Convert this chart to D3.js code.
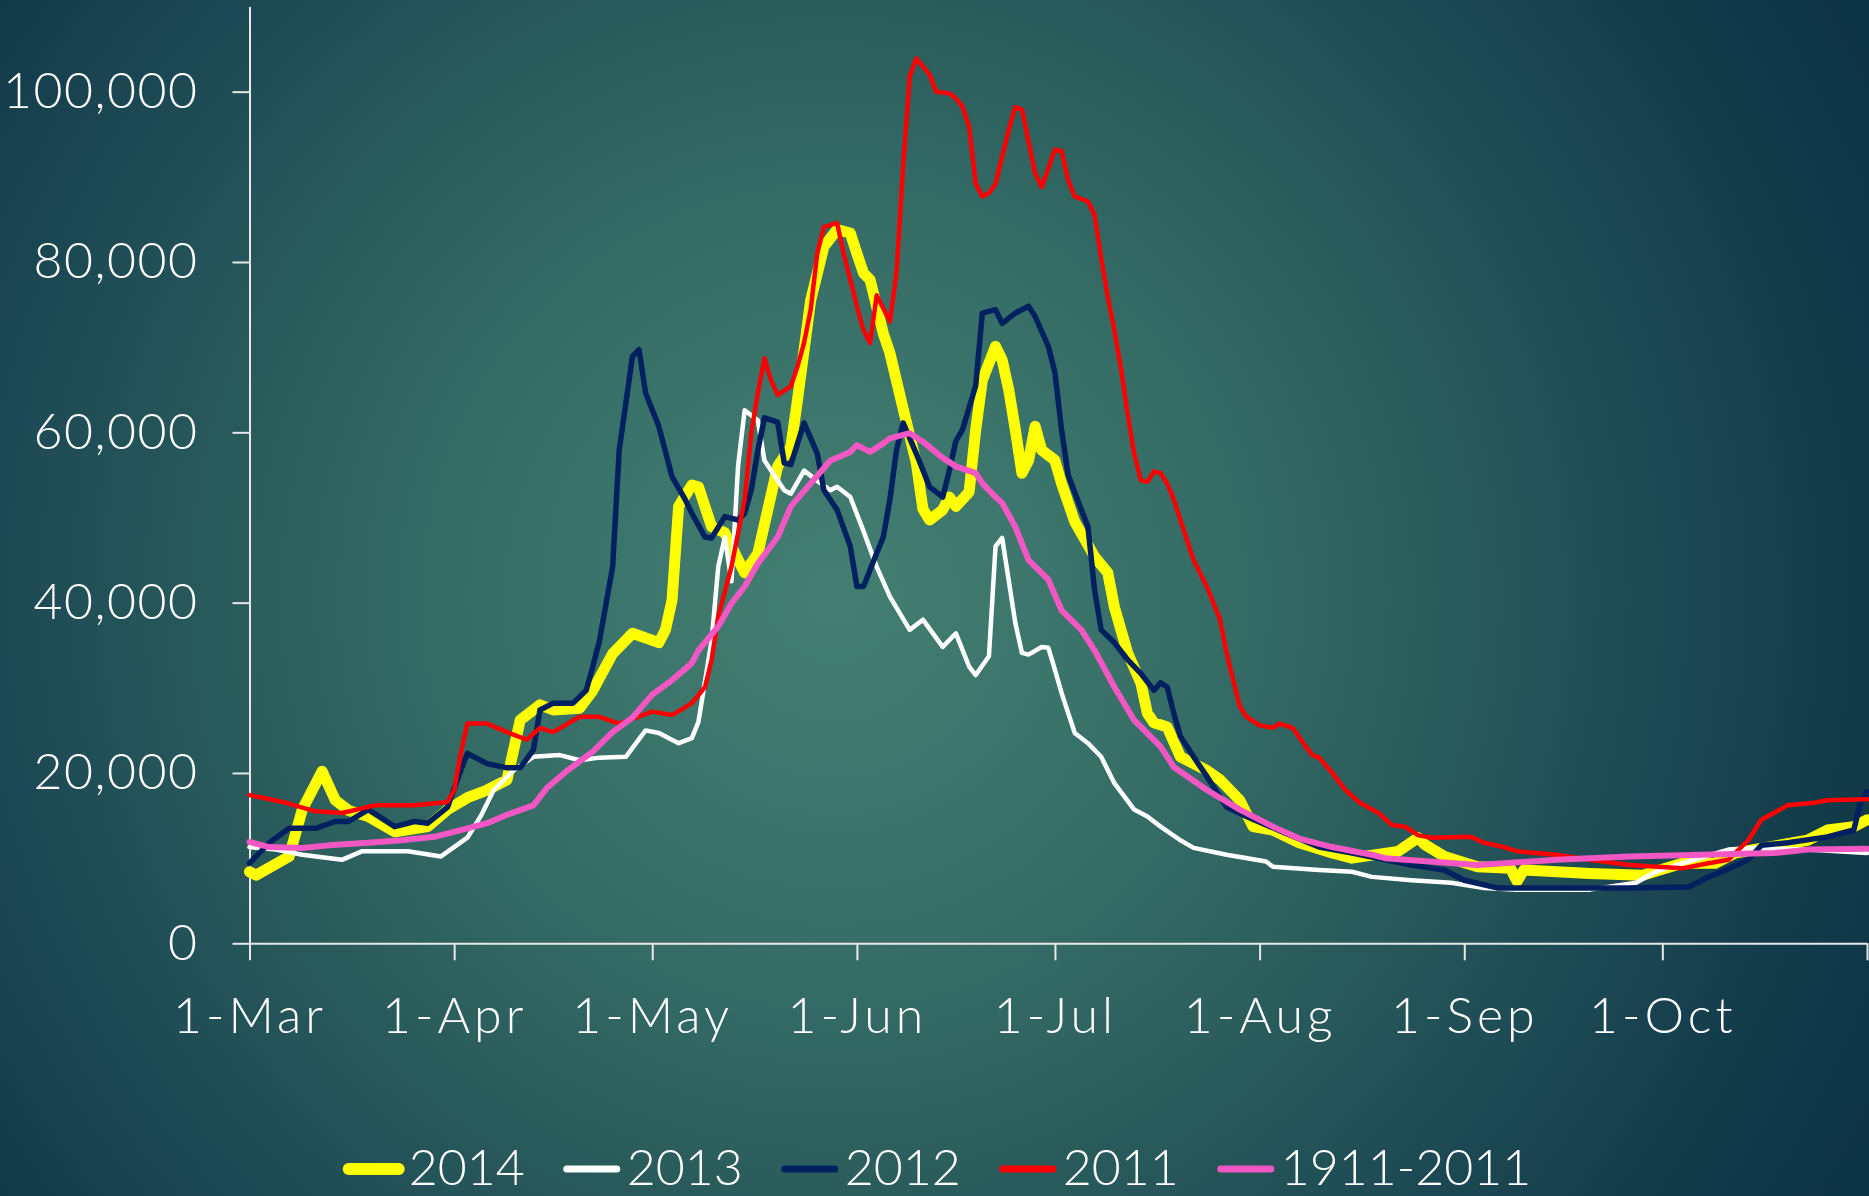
<!DOCTYPE html>
<html>
<head>
<meta charset="utf-8">
<script src="https://cdnjs.cloudflare.com/ajax/libs/d3/7.8.5/d3.min.js"></script>
<style>
	html, body { margin: 0; padding: 0; background: #123c4a; overflow: hidden; }
	svg { display: block; }
</style>
</head>
<body>
<div id="chart"></div>
<script>
// x = days after 1 March, y = daily count
var monthDays = [0, 31, 61, 92, 122, 153, 184, 214, 245];
var monthLabels = ["1-Mar", "1-Apr", "1-May", "1-Jun", "1-Jul", "1-Aug", "1-Sep", "1-Oct", ""];
var yTicks = [0, 20000, 40000, 60000, 80000, 100000];

var seriesNames = ["2014", "2013", "2012", "2011", "1911-2011"];
var seriesColors = ["#ffff00", "#ffffff", "#002060", "#ff0000", "#f257c3"];
var seriesWidths = [11, 4.5, 5.5, 4.5, 6];

var s2014 = [[0,8400],[1,8000],[6,10200],[8,15700],[11,20200],[13,16800],[15,15600],[18,14900],[22,13100],[27,13700],[30,15700],[33,17100],[36,18000],[39,19200],[40,22700],[41,26200],[44,28000],[46,27400],[50,27600],[52,29700],[55,34000],[58,36400],[62,35300],[63,36800],[64,40300],[65,51300],[67,53800],[68,53600],[70,48900],[72,48200],[73,46600],[75,43500],[77,45800],[80,56000],[82,58300],[83,63800],[85,75500],[87,81800],[89,83800],[91,83400],[92,81000],[93,78700],[94,77900],[96,71600],[97,69300],[99,62800],[101,56400],[102,51000],[103,49700],[105,50900],[106,52400],[107,51300],[109,53000],[110,60300],[111,66100],[113,70100],[114,68500],[115,65000],[116,60300],[117,55200],[118,56700],[119,60700],[120,57900],[122,56700],[123,54000],[125,49500],[128,45400],[130,43500],[131,39500],[133,34100],[135,30600],[136,27000],[137,25900],[139,25400],[141,21900],[145,20300],[147,19200],[150,16800],[152,13700],[155,13300],[159,11800],[164,10600],[167,10000],[174,10800],[177,12400],[178,11600],[181,10200],[186,9000],[191,8800],[192,7300],[193,8600],[203,8200],[211,8000],[217,9400],[222,9400],[225,10600],[236,12100],[239,13300],[243,13700],[245,14500]];

var s2013 = [[0,11300],[4,11000],[8,10400],[14,9800],[17,10800],[24,10800],[29,10200],[33,12400],[35,14900],[37,18000],[40,20300],[43,21900],[47,22100],[50,21500],[53,21800],[57,21900],[60,25000],[62,24700],[65,23500],[67,24100],[68,26000],[70,35600],[71,44200],[72,47700],[73,42500],[74,56000],[75,62600],[77,61400],[78,56700],[81,53200],[82,52800],[84,55500],[86,54300],[88,53200],[89,53600],[91,52400],[93,48400],[95,44200],[97,40700],[100,36800],[102,38000],[105,34800],[107,36400],[109,32500],[110,31500],[112,33700],[113,46600],[114,47600],[116,37600],[117,34100],[118,33900],[120,34800],[121,34700],[122,32100],[123,29400],[125,24700],[127,23500],[129,21900],[131,18800],[134,15700],[136,14900],[138,13700],[141,12100],[143,11200],[148,10400],[154,9600],[155,9000],[162,8600],[167,8400],[170,7800],[176,7400],[182,7100],[187,6500],[192,6300],[203,6300],[210,7100],[213,8400],[217,9400],[224,11000],[228,11200],[236,11000],[245,10600]];

var s2012 = [[0,9400],[3,11800],[6,13500],[10,13500],[13,14300],[15,14300],[18,15700],[22,13700],[25,14300],[27,14100],[30,16000],[32,20300],[33,22300],[36,21100],[39,20600],[41,20600],[43,22700],[44,27400],[46,28200],[49,28200],[51,29700],[52,32500],[53,35500],[55,44200],[56,57900],[58,68900],[59,69700],[60,64600],[62,60700],[64,54800],[66,52100],[67,50500],[69,47700],[70,47600],[72,50100],[74,49700],[75,50500],[76,53200],[77,57900],[78,61700],[80,61200],[81,56400],[82,56200],[84,61100],[86,57500],[87,53200],[89,50900],[91,46600],[92,41900],[93,41900],[95,45800],[96,47700],[97,52100],[98,57900],[99,61100],[101,57500],[103,53600],[105,52400],[106,55500],[107,59000],[108,60300],[110,65500],[111,74000],[113,74400],[114,72800],[116,74000],[118,74800],[119,73600],[121,70100],[122,67000],[123,60300],[124,55000],[126,50900],[127,48900],[128,41500],[129,36800],[131,35300],[133,33300],[135,31700],[137,29700],[138,30600],[139,30100],[140,27000],[141,24300],[143,21900],[145,19600],[148,16000],[151,14900],[157,12900],[162,11300],[167,10600],[176,9200],[181,8600],[184,7400],[189,6500],[198,6500],[209,6500],[218,6600],[221,7800],[223,8400],[227,9800],[229,11500],[233,11800],[239,12500],[243,13300],[244,16500],[245,17800]];

var s2011 = [[0,17400],[2,17100],[5,16600],[10,15500],[14,15300],[19,16200],[25,16200],[30,16600],[31,18000],[32,22300],[33,25800],[36,25800],[39,24800],[42,23900],[44,25300],[46,24800],[50,26600],[53,26600],[56,25800],[61,27200],[64,26800],[67,28200],[69,30100],[70,33300],[71,38400],[73,44200],[75,52100],[76,59900],[77,64600],[78,68700],[79,66100],[80,64400],[82,65400],[83,67700],[84,70500],[85,74400],[86,81000],[87,84100],[89,84600],[90,81000],[91,77900],[92,74800],[93,72000],[94,70500],[95,76100],[97,73000],[98,78700],[99,91200],[100,101800],[101,103900],[103,102000],[104,100000],[106,99800],[107,99200],[108,98200],[109,95900],[110,89200],[111,87700],[112,88100],[113,89200],[115,95500],[116,98200],[117,97900],[119,90400],[120,88800],[122,93200],[123,93000],[124,89600],[125,87700],[127,87100],[128,85500],[129,80500],[130,75900],[131,72000],[132,67500],[133,62200],[134,57500],[135,54400],[136,54200],[137,55400],[138,55200],[139,54000],[140,52100],[141,49700],[143,45000],[145,41900],[147,38000],[148,34100],[149,30900],[150,27800],[151,26600],[153,25600],[155,25300],[156,25800],[158,25300],[160,23100],[161,22100],[162,21800],[164,20000],[166,18000],[168,16600],[171,15300],[173,13900],[175,13700],[177,12700],[179,12400],[185,12500],[187,11800],[190,11300],[192,10800],[198,10400],[203,9800],[209,9200],[217,8800],[221,9400],[224,9800],[227,12100],[229,14500],[233,16200],[237,16500],[239,16800],[245,16900]];

var sAvg = [[0,11900],[3,11300],[8,11200],[12,11500],[18,11800],[23,12100],[28,12500],[32,13300],[36,14100],[39,15100],[43,16200],[45,18200],[48,20200],[52,22500],[55,24800],[58,26500],[61,29200],[64,30900],[67,32900],[68,34400],[71,37200],[73,39900],[75,41900],[77,44600],[80,47700],[82,51300],[85,54000],[88,56700],[91,57700],[92,58500],[94,57700],[96,58700],[97,59300],[100,59900],[102,58900],[105,57000],[107,56000],[110,55200],[111,54000],[113,52400],[114,51700],[116,48900],[118,45000],[121,42700],[123,39100],[126,36800],[128,34400],[131,30100],[134,26200],[138,23100],[140,20700],[145,18000],[150,15700],[155,13700],[159,12300],[164,11300],[170,10400],[172,10000],[186,9200],[198,9800],[209,10200],[220,10400],[231,10600],[236,11000],[245,11100]];

var allSeries = [s2014, s2013, s2012, s2011, sAvg];

var W = 1869, H = 1196;
var fontFam = "Lato, 'Open Sans', sans-serif";

var svg = d3.select("#chart")
	.append("svg")
	.attr("width", W)
	.attr("height", H);

// background: radial teal glow
var defs = svg.append("defs");
var grad = defs.append("radialGradient")
	.attr("id", "bg")
	.attr("gradientUnits", "userSpaceOnUse")
	.attr("cx", 834).attr("cy", 596).attr("r", 1200);
[[0, "#447f72"], [0.3, "#366e67"], [0.5, "#2a5c5c"], [0.7, "#1c4853"], [0.86, "#123a49"], [1, "#0c3245"]]
	.forEach(function (s) {
		grad.append("stop").attr("offset", s[0]).attr("stop-color", s[1]);
	});
svg.append("rect").attr("width", W).attr("height", H).attr("fill", "url(#bg)");

var x = d3.scaleLinear().domain([0, 245]).range([249.5, 1867]);
var y = d3.scaleLinear().domain([0, 110000]).range([943.3, 6.5]);

// Y axis
var yAxis = svg.append("g")
	.attr("transform", "translate(" + x(0) + ",0)")
	.call(d3.axisLeft(y).tickValues(yTicks).tickSize(17).tickSizeOuter(0).tickPadding(34).tickFormat(d3.format(",")));

// X axis
var xAxis = svg.append("g")
	.attr("transform", "translate(0," + y(0) + ")")
	.call(d3.axisBottom(x).tickValues(monthDays).tickSize(17).tickSizeOuter(0).tickPadding(37)
		.tickFormat(function (d, i) { return monthLabels[i]; }));

[yAxis, xAxis].forEach(function (g) {
	g.attr("font-family", null).attr("font-size", null);
	g.selectAll("path, line").attr("stroke", "#e8e8e8").attr("stroke-width", 2);
	g.selectAll("text")
		.attr("fill", "#ffffff")
		.style("font-family", fontFam)
		.style("font-weight", 300)
		.style("font-size", "50px");
});
yAxis.selectAll("text").style("letter-spacing", "1.5px");
xAxis.selectAll("text").style("letter-spacing", "4px");

// lines
var line = d3.line()
	.x(function (d) { return x(d[0]); })
	.y(function (d) { return y(d[1]); });

allSeries.forEach(function (s, i) {
	svg.append("path")
		.datum(s)
		.attr("fill", "none")
		.attr("stroke", seriesColors[i])
		.attr("stroke-width", seriesWidths[i])
		.attr("stroke-linejoin", "round")
		.attr("stroke-linecap", "round")
		.attr("d", line);
});

// legend
var legend = svg.append("g");
var swatchW = 50, gapAfterSwatch = 4, gapItems = 36;
var cursor = 0;
seriesNames.forEach(function (name, i) {
	var item = legend.append("g").attr("transform", "translate(" + cursor + ",0)");
	item.append("line")
		.attr("x1", 6).attr("x2", 6 + swatchW)
		.attr("y1", -16).attr("y2", -16)
		.attr("stroke", seriesColors[i])
		.attr("stroke-width", i == 0 ? 12 : 7)
		.attr("stroke-linecap", "round");
	var t = item.append("text")
		.attr("x", 6 + swatchW + 6 + gapAfterSwatch)
		.attr("y", 0)
		.attr("fill", "#ffffff")
		.style("font-family", fontFam)
		.style("font-weight", 300)
		.style("font-size", "50px")
		.text(name);
	cursor += 6 + swatchW + 6 + gapAfterSwatch + t.node().getComputedTextLength() + gapItems;
});
var legendW = cursor - gapItems;
legend.attr("transform", "translate(" + (937 - legendW / 2) + ",1185)");
</script>
</body>
</html>
